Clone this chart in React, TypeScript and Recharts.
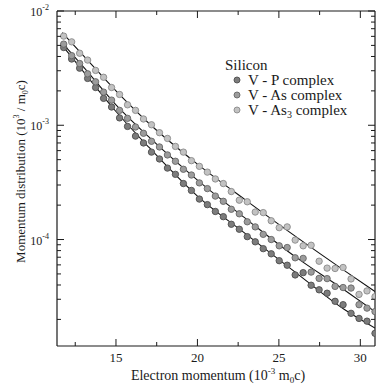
import React from 'react';
import { ComposedChart, Scatter, Line, XAxis, YAxis, Legend } from 'recharts';

// electron momentum (10^-3 m0c) of the measured points
const momentum = [
  11.79, 12.28, 12.77, 13.26, 13.75, 14.24, 14.73, 15.22, 15.71, 16.2,
  16.69, 17.18, 17.67, 18.16, 18.65, 19.14, 19.63, 20.12, 20.61, 21.1,
  21.59, 22.08, 22.57, 23.06, 23.55, 24.04, 24.53, 25.02, 25.51, 26.0,
  26.49, 26.98, 27.47, 27.96, 28.45, 28.94, 29.43, 29.92, 30.41, 30.9,
];

const vpComplex = [
  4.79e-3, 3.8e-3, 3.16e-3, 2.57e-3, 2.14e-3, 1.72e-3, 1.445e-3, 1.16e-3, 9.77e-4, 8.04e-4,
  7.0e-4, 5.82e-4, 5.07e-4, 4.22e-4, 3.72e-4, 3.09e-4, 2.69e-4, 2.26e-4, 2.02e-4, 1.76e-4,
  1.585e-4, 1.36e-4, 1.23e-4, 1.06e-4, 9.55e-5, 8.32e-5, 7.5e-5, 6.53e-5, 5.96e-5, 4.9e-5,
  5.13e-5, 3.98e-5, 3.63e-5, 3.39e-5, 2.88e-5, 2.69e-5, 2.26e-5, 2.04e-5, 1.93e-5, 1.51e-5,
];

const vAsComplex = [
  5.13e-3, 4.07e-3, 3.47e-3, 2.82e-3, 2.4e-3, 1.95e-3, 1.66e-3, 1.35e-3, 1.15e-3, 9.66e-4,
  8.51e-4, 7.24e-4, 6.46e-4, 5.5e-4, 4.84e-4, 4.12e-4, 3.67e-4, 3.13e-4, 2.79e-4, 2.4e-4,
  2.16e-4, 1.84e-4, 1.68e-4, 1.43e-4, 1.29e-4, 1.11e-4, 1.0e-4, 8.81e-5, 8.51e-5, 6.92e-5,
  6.84e-5, 5.19e-5, 4.57e-5, 4.55e-5, 3.89e-5, 3.8e-5, 3.76e-5, 2.69e-5, 2.51e-5, 2.34e-5,
];

const vAs3Complex = [
  6.03e-3, 5.37e-3, 4.27e-3, 3.72e-3, 3.02e-3, 2.63e-3, 2.14e-3, 1.86e-3, 1.51e-3, 1.35e-3,
  1.135e-3, 1.01e-3, 8.61e-4, 7.67e-4, 6.53e-4, 5.82e-4, 4.9e-4, 4.37e-4, 3.89e-4, 3.39e-4,
  3.09e-4, 2.63e-4, 2.21e-4, 2.14e-4, 1.74e-4, 1.72e-4, 1.46e-4, 1.27e-4, 1.29e-4, 9.89e-5,
  8.81e-5, 8.91e-5, 6.46e-5, 5.62e-5, 5.58e-5, 5.69e-5, 4.52e-5, 3.31e-5, 3.55e-5, 3.16e-5,
];

// fitted curves
const fitMomentum = [11.7, 13, 15, 17, 20, 23, 26, 29, 30.9];
const vpFit = [5.01e-3, 2.95e-3, 1.32e-3, 6.46e-4, 2.4e-4, 1.11e-4, 5.19e-5, 2.45e-5, 1.68e-5];
const vAsFit = [5.25e-3, 3.24e-3, 1.51e-3, 7.94e-4, 3.31e-4, 1.51e-4, 7.08e-5, 3.63e-5, 2.34e-5];
const vAs3Fit = [6.46e-3, 4.07e-3, 2.0e-3, 1.047e-3, 4.57e-4, 2.19e-4, 1.07e-4, 5.37e-5, 3.51e-5];

const xTicks = [12.5, 15, 17.5, 20, 22.5, 25, 27.5, 30];
const xMajorTicks = [15, 20, 25, 30];
const yTicks = [
  2e-5, 3e-5, 4e-5, 5e-5, 6e-5, 7e-5, 8e-5, 9e-5,
  1e-4, 2e-4, 3e-4, 4e-4, 5e-4, 6e-4, 7e-4, 8e-4, 9e-4,
  1e-3, 2e-3, 3e-3, 4e-3, 5e-3, 6e-3, 7e-3, 8e-3, 9e-3, 1e-2,
];
const yMajorTicks = [1e-4, 1e-3, 1e-2];

const seriesNames = ['V - P complex', 'V - As complex', 'V - As3 complex'];

const FONT = '"Liberation Serif", "DejaVu Serif", serif';
const INK = '#1a1a1a';

const styles = [
  { fill: '#7c7c7c', stroke: '#4e4e4e' }, // V-P, darkest
  { fill: '#9c9c9c', stroke: '#666' },
  { fill: '#c2c2c2', stroke: '#8a8a8a' }, // V-As3, lightest
];

const toPoints = (xs: number[], ys: number[]) => xs.map((x, i) => ({ x, y: ys[i] }));

const measured = [vpComplex, vAsComplex, vAs3Complex].map((ys) => toPoints(momentum, ys));
const fits = [vpFit, vAsFit, vAs3Fit].map((ys) => toPoints(fitMomentum, ys));

const dot = (style: { fill: string; stroke: string }) => (props: any) => (
  <circle cx={props.cx} cy={props.cy} r={3.2} fill={style.fill} stroke={style.stroke} strokeWidth={0.9} />
);

const BottomTick = ({ x, y, payload }: any) => {
  const major = xMajorTicks.includes(payload.value);
  return (
    <g>
      <line x1={x} x2={x} y1={y} y2={y - (major ? 7 : 4)} stroke={INK} />
      {major && (
        <text x={x} y={y + 16} textAnchor="middle" fontSize={13} fill={INK} fontFamily={FONT}>
          {payload.value}
        </text>
      )}
    </g>
  );
};

const TopTick = ({ x, y, payload }: any) => {
  const major = xMajorTicks.includes(payload.value);
  return <line x1={x} x2={x} y1={y} y2={y + (major ? 7 : 4)} stroke={INK} />;
};

const LeftTick = ({ x, y, payload }: any) => {
  const major = yMajorTicks.includes(payload.value);
  const exp = Math.round(Math.log10(payload.value));
  return (
    <g>
      <line x1={x} x2={x + (major ? 7 : 4)} y1={y} y2={y} stroke={INK} />
      {major && (
        <text x={x - 8} y={y + 5} textAnchor="end" fontSize={12} fill={INK} fontFamily={FONT}>
          10
          <tspan dy={-6} fontSize={8}>
            {exp}
          </tspan>
        </text>
      )}
    </g>
  );
};

const RightTick = ({ x, y, payload }: any) => {
  const major = yMajorTicks.includes(payload.value);
  return <line x1={x} x2={x - (major ? 7 : 4)} y1={y} y2={y} stroke={INK} />;
};

const XTitle = ({ viewBox }: any) => (
  <text
    x={viewBox.x + viewBox.width / 2 + 2}
    y={viewBox.y + 34}
    textAnchor="middle"
    fontSize={14}
    fill={INK}
    fontFamily={FONT}
  >
    Electron momentum (10
    <tspan dy={-6} fontSize={9}>-3</tspan>
    <tspan dy={6}> m</tspan>
    <tspan dy={3} fontSize={9}>0</tspan>
    <tspan dy={-3}>c)</tspan>
  </text>
);

const YTitle = ({ viewBox }: any) => {
  const cx = viewBox.x + 18;
  const cy = viewBox.y + viewBox.height / 2 - 7;
  return (
    <text
      x={cx}
      y={cy}
      transform={`rotate(-90 ${cx} ${cy})`}
      textAnchor="middle"
      fontSize={13}
      fill={INK}
      fontFamily={FONT}
    >
      Momentum distribution (10
      <tspan dy={-6} fontSize={8}>3</tspan>
      <tspan dy={6}> / m</tspan>
      <tspan dy={3} fontSize={8}>0</tspan>
      <tspan dy={-3}>c)</tspan>
    </text>
  );
};

const SiliconLegend = () => (
  <svg width={160} height={70} style={{ fontFamily: FONT }}>
    <text x={3} y={16} fontSize={15} fill={INK}>
      Silicon
    </text>
    {seriesNames.map((name, i) => (
      <g key={name}>
        <circle cx={15} cy={26 + i * 15} r={3} fill={styles[i].fill} stroke={styles[i].stroke} strokeWidth={0.9} />
        <text x={26} y={31 + i * 15} fontSize={15} fill={INK}>
          {name.endsWith('As3 complex') ? (
            <>
              V - As<tspan dy={3} fontSize={10}>3</tspan>
              <tspan dy={-3}> complex</tspan>
            </>
          ) : (
            name
          )}
        </text>
      </g>
    ))}
  </svg>
);

const App = () => {
  return (
    <div style={{ position: 'absolute', left: 0, top: 0, width: 382, height: 388, background: '#fff' }}>
      <ComposedChart width={382} height={388} margin={{ top: 10, right: 0, bottom: 12, left: 7 }}>
        <XAxis
          dataKey="x"
          type="number"
          domain={[11.38, 30.9]}
          allowDataOverflow
          ticks={xTicks}
          interval={0}
          tickSize={0}
          tickMargin={0}
          tick={<BottomTick />}
          axisLine={{ stroke: INK, strokeWidth: 1.2 }}
          height={30}
          label={<XTitle />}
        />
        <XAxis
          xAxisId="top"
          orientation="top"
          dataKey="x"
          type="number"
          domain={[11.38, 30.9]}
          allowDataOverflow
          ticks={xTicks}
          interval={0}
          tickSize={0}
          tickMargin={0}
          tick={<TopTick />}
          axisLine={{ stroke: INK, strokeWidth: 1.2 }}
          height={1}
        />
        <YAxis
          type="number"
          scale="log"
          domain={[1.17e-5, 1e-2]}
          allowDataOverflow
          ticks={yTicks}
          interval={0}
          tickSize={0}
          tickMargin={0}
          tick={<LeftTick />}
          axisLine={{ stroke: INK, strokeWidth: 1.2 }}
          width={50}
          label={<YTitle />}
        />
        <YAxis
          yAxisId="right"
          orientation="right"
          type="number"
          scale="log"
          domain={[1.17e-5, 1e-2]}
          allowDataOverflow
          ticks={yTicks}
          interval={0}
          tickSize={0}
          tickMargin={0}
          tick={<RightTick />}
          axisLine={{ stroke: INK, strokeWidth: 1.2 }}
          width={7}
        />
        <Legend
          layout="horizontal"
          verticalAlign="middle"
          align="center"
          wrapperStyle={{ left: 222, top: 54, width: 160 }}
          content={<SiliconLegend />}
        />
        {measured.map((pts, i) => (
          <Scatter
            key={seriesNames[i]}
            name={seriesNames[i]}
            data={pts}
            dataKey="y"
            shape={dot(styles[i])}
            isAnimationActive={false}
          />
        ))}
        {fits.map((pts, i) => (
          <Line
            key={`fit-${i}`}
            data={pts}
            dataKey="y"
            type="monotone"
            stroke="#111"
            strokeWidth={1.1}
            dot={false}
            activeDot={false}
            legendType="none"
            isAnimationActive={false}
          />
        ))}
      </ComposedChart>
    </div>
  );
};

export default App;
